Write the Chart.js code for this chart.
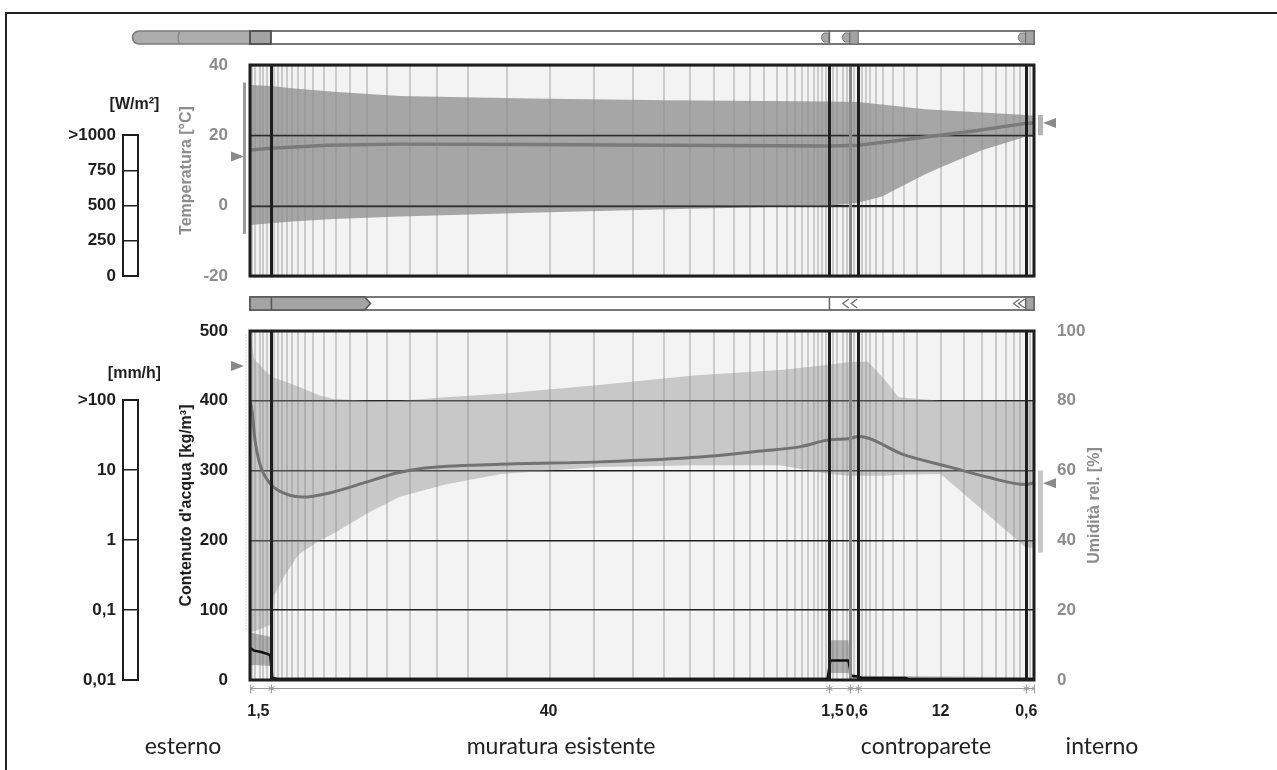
<!DOCTYPE html>
<html><head><meta charset="utf-8">
<script src="https://cdn.jsdelivr.net/npm/chart.js@4.4.1/dist/chart.umd.min.js"></script>
<style>
html,body{margin:0;padding:0;background:#fff;width:1277px;height:770px;overflow:hidden;position:relative}
canvas{position:absolute;display:block}
#frame{position:absolute;left:5px;top:12px;width:1290px;height:800px;border-left:2px solid #222;border-top:2px solid #222}
.lbl{position:absolute;top:731px;line-height:28px;font-family:Lato,'Open Sans',sans-serif;font-size:23px;color:#222;transform:translateX(-50%);white-space:nowrap}
</style></head>
<body>
<div id="frame"></div>
<canvas id="cW" width="160" height="290" style="left:0;top:0"></canvas>
<canvas id="cR" width="160" height="485" style="left:0;top:285px"></canvas>
<canvas id="cT" width="1277" height="290" style="left:0;top:0"></canvas>
<canvas id="cM" width="1277" height="485" style="left:0;top:285px"></canvas>
<div id="labels"></div>
<script>
// ================= DATA =================
const layerThick  = [1.5, 40, 1.5, 0.6, 12, 0.6];           // cm
const layerLabels = ['1,5', '40', '1,5', '0,6', '12', '0,6'];
const layerLabelPos = [0.6, 21.4, 41.75, 43.5, 49.5, 55.65]; // cm (label anchors)
const regionNames = ['esterno', 'muratura esistente', 'controparete', 'interno'];
const regionPos   = [183, 561, 926, 1102];                    // px centres of the captions
const gridCm = [0.17,0.36,0.72,0.95,1.2,
  1.74,2.03,2.32,2.63,2.99,3.42,3.94,4.54,5.30,6.14,7.17,8.37,9.80,11.47,13.38,15.65,18.40,
  21.51,24.66,27.43,29.70,31.54,33.28,34.72,35.84,36.87,37.76,38.47,39.07,39.59,40.02,40.43,40.74,41.03,41.27,
  41.81,42.10,42.49,42.77, 43.3,
  43.85,44.15,44.45,44.85,45.4,46.1,46.9,47.8,49.5,51.2,52.5,53.5,54.2,54.8,55.2, 55.91];

// temperature [°C]
const tempTicks = [-20, 0, 20, 40];
const tempBandX = [0, 1.5, 3, 6, 10.75, 20, 30, 41.5, 43.6, 45.3, 48.4, 49.6, 52.5, 55.6, 56.2];
const tempMax   = [34.3, 34, 33.4, 32.4, 31.2, 30.5, 30, 29.6, 29.5, 28.8, 27.4, 27.1, 26.5, 25.8, 25.6];
const tempMin   = [-5.5, -5, -4.5, -3.8, -3.1, -2, -1, 0, 0.8, 2.6, 8.9, 11.1, 15.8, 19.6, 20];
const tempMeanX = [0, 1.5, 5.5, 10.75, 20, 30, 41.5, 43.6, 46, 49, 52, 55.6, 56.2];
const tempMean  = [15.8, 16.3, 17.2, 17.5, 17.4, 17.2, 17, 17.2, 18.3, 19.8, 21.3, 23.4, 23.5];
const extTempRange = [-8, 35], extTempMean = 14, intTempRange = [20, 25.8], intTempMean = 23.5;

// relative humidity [%]
const rhTicks = [0, 20, 40, 60, 80, 100];
const rhBandX = [0, 0.3, 1, 1.5, 1.7, 2.5, 3.5, 5, 6, 8.5, 10.75, 14, 18, 25, 32, 38, 41.5, 43, 43.6, 44.3, 45.5, 46.5, 49.5, 52, 55.6, 56.2];
const rhMax   = [99, 92, 89, 87, 86.7, 85.5, 84, 81.5, 80.5, 80, 80, 81, 82, 84.5, 87.3, 88.8, 90.3, 91.1, 91.2, 91.2, 86, 81, 80, 80, 80, 80];
const rhMin   = [14, 14, 15, 16, 24, 30, 36, 40, 42, 48, 52.5, 56, 59, 61, 61.5, 61.5, 59, 58.5, 58.5, 58.5, 58.5, 58.8, 59, 50.5, 38, 38];
const rhMeanX = [0, 0.15, 0.35, 0.7, 1.4, 2.4, 3.8, 5.7, 8.1, 10.5, 12.4, 17.9, 25.1, 32.3, 36.6, 39.4, 41.5, 43, 43.6, 46.9, 50.2, 53, 55.6, 56.2];
const rhMean  = [80, 77, 69, 62, 56.5, 53.6, 52.4, 53.6, 56.4, 59.3, 60.7, 61.8, 62.5, 63.9, 65.6, 66.8, 68.8, 69.2, 69.8, 64.5, 61, 58, 56, 56.5];
const extRhRange = [14, 99], extRhMean = 90, intRhRange = [36.5, 60], intRhMean = 56.4;

// water content [kg/m³]
const wcTicks = [0, 100, 200, 300, 400, 500];
const wcX   = [0, 0.3, 0.8, 1.3, 1.45, 1.6, 2, 41.4, 41.6, 42.9, 43.1, 43.6, 43.8, 47, 47.2, 56.2];
const wc    = [46, 42, 40, 37, 35, 3, 1.5, 1.5, 28, 28, 6, 5, 3, 3, 1.5, 1.5];
const wcBandX = [0, 1.45, 1.6, 41.4, 41.6, 42.9, 43.1, 56.2];
const wcMax   = [68, 62, 4, 4, 57, 57, 6, 4];
const wcMin   = [22, 20, 0, 0, 10, 10, 0, 0];
const moistFront = 8.5; // cm, extent of the shaded bar over the moisture chart

// side scales
const radTicks = [0, 250, 500, 750, 1000];
const radLabels = ['0', '250', '500', '750', '>1000'];
const rainTicks = [0.01, 0.1, 1, 10, 100];
const rainLabels = ['0,01', '0,1', '1', '10', '>100'];

// ================= HELPERS =================
const FONT = "'Liberation Sans', Arial, sans-serif";
Chart.defaults.font.family = FONT;
const boundaries = layerThick.reduce((a, t) => { a.push(+(a[a.length - 1] + t).toFixed(3)); return a; }, [0]);
const X_END = boundaries[boundaries.length - 1];
const pts = (xs, ys) => xs.map((x, i) => ({x, y: ys[i]}));
const fixTicks = arr => s => { s.ticks = arr.map(v => ({value: v})); };
const GRIDGRAY = '#cbcbcb', TICKGRAY = '#8c8c8c', INK = '#1e1e1e';

const bgPlugin = { id: 'bg', beforeDraw(c) {
  const a = c.chartArea, ctx = c.ctx; ctx.save(); ctx.fillStyle = '#f3f3f3';
  ctx.fillRect(a.left, a.top, a.right - a.left, a.bottom - a.top); ctx.restore(); } };

// redraw horizontal value lines above the bands, below the mean curves
const hLinePlugin = { id: 'hline', beforeDatasetDraw(c, args) {
  if (args.index !== 1) return;
  const a = c.chartArea, ctx = c.ctx, y = c.scales.y;
  ctx.save(); ctx.strokeStyle = 'rgba(30,30,30,0.85)'; ctx.lineWidth = 1.5;
  y.ticks.forEach(t => { const py = Math.round(y.getPixelForValue(t.value)) + 0.5;
    ctx.beginPath(); ctx.moveTo(a.left, py); ctx.lineTo(a.right, py); ctx.stroke(); });
  ctx.restore(); } };

const framePlugin = { id: 'frame', afterDatasetsDraw(c) {
  const a = c.chartArea, ctx = c.ctx, xs = c.scales.x;
  ctx.save();
  boundaries.slice(1, -1).forEach((b, i) => {
    const px = Math.round(xs.getPixelForValue(b)) + 0.5;
    ctx.strokeStyle = (i === 2) ? '#8a8a8a' : INK; ctx.lineWidth = 3;
    ctx.beginPath(); ctx.moveTo(px, a.top); ctx.lineTo(px, a.bottom); ctx.stroke();
  });
  ctx.strokeStyle = INK; ctx.lineWidth = 3;
  ctx.strokeRect(a.left, a.top, a.right - a.left, a.bottom - a.top);
  ctx.restore(); } };

function tri(ctx, x, y, dir, color) {
  ctx.beginPath(); ctx.moveTo(x, y); ctx.lineTo(x - dir * 13, y - 5); ctx.lineTo(x - dir * 13, y + 5); ctx.closePath();
  ctx.fillStyle = color; ctx.fill();
}
function lArrow(ctx, xr, y0, h, fill) {
  ctx.beginPath(); ctx.moveTo(xr, y0 + 2); ctx.lineTo(xr - 5, y0 + 2);
  ctx.quadraticCurveTo(xr - 10, y0 + h / 2, xr - 5, y0 + h - 2); ctx.lineTo(xr, y0 + h - 2); ctx.closePath();
  ctx.fillStyle = fill; ctx.fill(); ctx.strokeStyle = '#777'; ctx.lineWidth = 1; ctx.stroke();
}
function lTri(ctx, xr, y0, h) {
  ctx.beginPath(); ctx.moveTo(xr, y0 + 2); ctx.lineTo(xr - 6, y0 + h / 2); ctx.lineTo(xr, y0 + h - 2);
  ctx.strokeStyle = '#777'; ctx.lineWidth = 1.5; ctx.stroke();
}

const topBarPlugin = { id: 'topbar', afterDraw(c) {
  const ctx = c.ctx, xs = c.scales.x, X = v => xs.getPixelForValue(v);
  const y0 = 31, h = 13, L = c.chartArea.left;
  ctx.save();
  ctx.beginPath(); ctx.moveTo(L, y0); ctx.lineTo(L - 111, y0); ctx.arc(L - 111, y0 + h / 2, h / 2, -Math.PI / 2, Math.PI / 2, true);
  ctx.lineTo(L, y0 + h); ctx.closePath(); ctx.fillStyle = '#adadad'; ctx.fill(); ctx.strokeStyle = '#7a7a7a'; ctx.lineWidth = 1.5; ctx.stroke();
  ctx.beginPath(); ctx.moveTo(L - 70, y0); ctx.quadraticCurveTo(L - 74, y0 + h / 2, L - 70, y0 + h); ctx.strokeStyle = '#888'; ctx.stroke();
  ctx.fillStyle = '#fff'; ctx.fillRect(X(0), y0, X(X_END) - X(0), h);
  ctx.strokeStyle = '#777'; ctx.lineWidth = 2; ctx.strokeRect(X(0), y0, X(X_END) - X(0), h);
  ctx.fillStyle = '#a3a3a3'; ctx.fillRect(X(0), y0, X(boundaries[1]) - X(0), h);
  ctx.strokeStyle = '#555'; ctx.strokeRect(X(0), y0, X(boundaries[1]) - X(0), h);
  lArrow(ctx, X(boundaries[2]), y0, h, '#a9a9a9');
  ctx.strokeStyle = '#666'; ctx.lineWidth = 1.5; ctx.beginPath(); ctx.moveTo(X(boundaries[2]) + 0.5, y0); ctx.lineTo(X(boundaries[2]) + 0.5, y0 + h); ctx.stroke();
  lArrow(ctx, X(boundaries[3]), y0, h, '#a9a9a9');
  ctx.fillStyle = '#a3a3a3'; ctx.fillRect(X(boundaries[3]), y0, X(boundaries[4]) - X(boundaries[3]), h);
  ctx.strokeStyle = '#666'; ctx.strokeRect(X(boundaries[3]), y0, X(boundaries[4]) - X(boundaries[3]), h);
  lArrow(ctx, X(boundaries[5]), y0, h, '#a9a9a9');
  ctx.fillStyle = '#a3a3a3'; ctx.fillRect(X(boundaries[5]), y0, X(X_END) - X(boundaries[5]), h);
  ctx.strokeStyle = '#666'; ctx.strokeRect(X(boundaries[5]), y0, X(X_END) - X(boundaries[5]), h);
  ctx.restore(); } };

const midBarPlugin = { id: 'midbar', afterDraw(c) {
  const ctx = c.ctx, xs = c.scales.x, X = v => xs.getPixelForValue(v);
  const y0 = c.chartArea.top - 34, h = 13;
  ctx.save();
  ctx.fillStyle = '#fff'; ctx.fillRect(X(0), y0, X(X_END) - X(0), h);
  ctx.strokeStyle = '#777'; ctx.lineWidth = 2; ctx.strokeRect(X(0), y0, X(X_END) - X(0), h);
  const xf = X(moistFront);
  ctx.beginPath(); ctx.moveTo(X(0), y0); ctx.lineTo(xf - 4, y0); ctx.lineTo(xf + 2, y0 + h / 2); ctx.lineTo(xf - 4, y0 + h); ctx.lineTo(X(0), y0 + h); ctx.closePath();
  ctx.fillStyle = '#a3a3a3'; ctx.fill(); ctx.strokeStyle = '#555'; ctx.lineWidth = 1.5; ctx.stroke();
  ctx.beginPath(); ctx.moveTo(X(boundaries[1]) + 0.5, y0); ctx.lineTo(X(boundaries[1]) + 0.5, y0 + h); ctx.stroke();
  ctx.strokeStyle = '#666'; ctx.beginPath(); ctx.moveTo(X(boundaries[2]) + 0.5, y0); ctx.lineTo(X(boundaries[2]) + 0.5, y0 + h); ctx.stroke();
  lTri(ctx, X(boundaries[3]) - 1, y0, h); lTri(ctx, X(boundaries[4]) - 1, y0, h);
  lTri(ctx, X(boundaries[5]) - 6, y0, h); lTri(ctx, X(boundaries[5]) - 1, y0, h);
  ctx.fillStyle = '#a3a3a3'; ctx.fillRect(X(boundaries[5]), y0, X(X_END) - X(boundaries[5]), h);
  ctx.strokeStyle = '#666'; ctx.strokeRect(X(boundaries[5]), y0, X(X_END) - X(boundaries[5]), h);
  ctx.restore(); } };

const tempSidePlugin = { id: 'tside', afterDraw(c) {
  const ctx = c.ctx, y = c.scales.y, a = c.chartArea;
  ctx.save();
  ctx.fillStyle = '#9a9a9a'; ctx.fillRect(a.left - 7, y.getPixelForValue(extTempRange[1]), 3, y.getPixelForValue(extTempRange[0]) - y.getPixelForValue(extTempRange[1]));
  tri(ctx, a.left - 6, y.getPixelForValue(extTempMean), 1, '#8a8a8a');
  ctx.fillStyle = '#b5b5b5'; ctx.fillRect(a.right + 4, y.getPixelForValue(intTempRange[1]), 5, y.getPixelForValue(intTempRange[0]) - y.getPixelForValue(intTempRange[1]));
  tri(ctx, a.right + 9, y.getPixelForValue(intTempMean), -1, '#8a8a8a');
  ctx.restore(); } };

const moistSidePlugin = { id: 'mside', afterDraw(c) {
  const ctx = c.ctx, y = c.scales.y2, a = c.chartArea, xs = c.scales.x;
  ctx.save();
  ctx.strokeStyle = '#d4d4d4'; ctx.lineWidth = 2; ctx.setLineDash([1, 2]);
  ctx.beginPath(); ctx.moveTo(a.left - 4, y.getPixelForValue(extRhRange[1])); ctx.lineTo(a.left - 4, y.getPixelForValue(extRhRange[0])); ctx.stroke();
  ctx.setLineDash([]);
  tri(ctx, a.left - 6, y.getPixelForValue(extRhMean), 1, '#8a8a8a');
  ctx.fillStyle = '#c8c8c8'; ctx.fillRect(a.right + 4, y.getPixelForValue(intRhRange[1]), 5, y.getPixelForValue(intRhRange[0]) - y.getPixelForValue(intRhRange[1]));
  tri(ctx, a.right + 9, y.getPixelForValue(intRhMean), -1, '#8a8a8a');
  // dimension line
  const dy = a.bottom + 8.5;
  ctx.strokeStyle = '#9a9a9a'; ctx.lineWidth = 1;
  ctx.beginPath(); ctx.moveTo(xs.getPixelForValue(0), dy); ctx.lineTo(xs.getPixelForValue(X_END), dy); ctx.stroke();
  boundaries.forEach((b, i) => {
    const px = Math.round(xs.getPixelForValue(b)) + 0.5;
    ctx.beginPath(); ctx.moveTo(px, dy - 4); ctx.lineTo(px, dy + 5); ctx.stroke();
    ctx.beginPath();
    if (i > 0) { ctx.moveTo(px - 3, dy - 2); ctx.lineTo(px, dy); ctx.lineTo(px - 3, dy + 2); }
    if (i < boundaries.length - 1) { ctx.moveTo(px + 3, dy - 2); ctx.lineTo(px, dy); ctx.lineTo(px + 3, dy + 2); }
    ctx.stroke();
  });
  // right axis title
  ctx.translate(a.right + 61, (a.top + a.bottom) / 2); ctx.rotate(-Math.PI / 2);
  ctx.font = "bold 16px " + FONT; ctx.fillStyle = TICKGRAY;
  ctx.textAlign = 'center'; ctx.textBaseline = 'middle'; ctx.fillText('Umidità rel. [%]', 0, 0);
  ctx.restore(); } };

const boxPlugin = { id: 'box', afterDraw(c, args, opts) {
  const a = c.chartArea, ctx = c.ctx; ctx.save(); ctx.strokeStyle = INK; ctx.lineWidth = 2;
  ctx.strokeRect(a.left, a.top, a.right - a.left, a.bottom - a.top);
  ctx.font = "bold 16px " + FONT; ctx.fillStyle = INK; ctx.textAlign = 'center'; ctx.textBaseline = 'middle';
  ctx.fillText(opts.text, (a.left + a.right) / 2 + 4, a.top + opts.dy);
  ctx.restore(); } };

const common = { responsive: false, animation: false, events: [] };
const noPad = s => { s.paddingTop = 0; s.paddingBottom = 0; s.paddingLeft = 0; s.paddingRight = 0; };
const tickFont = { size: 17, weight: 'bold' };
const xTickFont = { size: 16, weight: 'bold' };
const titleFont = { size: 16, weight: 'bold' };
const basePlugins = { legend: { display: false }, tooltip: { enabled: false } };

// ================= TEMPERATURE CHART =================
new Chart(document.getElementById('cT'), {
  type: 'line',
  data: { datasets: [
    { data: pts(tempMeanX, tempMean), borderColor: '#7a7a7a', borderWidth: 3.5, pointRadius: 0, fill: false },
    { data: pts(tempBandX, tempMax), borderWidth: 0, pointRadius: 0, fill: '+1', backgroundColor: 'rgba(140,140,140,0.75)' },
    { data: pts(tempBandX, tempMin), borderWidth: 0, pointRadius: 0, fill: false }
  ] },
  options: { ...common, plugins: basePlugins,
    layout: { padding: { left: 150, right: 243, top: 65, bottom: 14 } },
    scales: {
      x: { type: 'linear', min: 0, max: X_END, afterBuildTicks: fixTicks(gridCm),
           ticks: { display: false }, grid: { color: GRIDGRAY, lineWidth: 2, drawTicks: false }, border: { display: false },
           afterFit: s => { s.height = 0; noPad(s); } },
      y: { min: -20, max: 40, afterBuildTicks: fixTicks(tempTicks),
           ticks: { color: TICKGRAY, font: tickFont, padding: 22 }, grid: { color: INK, lineWidth: 1.5, drawTicks: false }, border: { display: false },
           title: { display: true, text: 'Temperatura [°C]', color: TICKGRAY, font: titleFont, padding: { top: 27, bottom: 0 } },
           afterFit: s => { s.width = 100; noPad(s); } }
    } },
  plugins: [bgPlugin, hLinePlugin, framePlugin, topBarPlugin, tempSidePlugin]
});

// ================= MOISTURE CHART =================
new Chart(document.getElementById('cM'), {
  type: 'line',
  data: { datasets: [
    { data: pts(wcX, wc), yAxisID: 'y', borderColor: '#111', borderWidth: 2.5, pointRadius: 0, fill: false },
    { data: pts(rhMeanX, rhMean), yAxisID: 'y2', borderColor: '#727272', borderWidth: 3, pointRadius: 0, fill: false, cubicInterpolationMode: 'monotone' },
    { data: pts(wcBandX, wcMax), yAxisID: 'y', borderWidth: 0, pointRadius: 0, fill: '+1', backgroundColor: 'rgba(110,110,110,0.5)' },
    { data: pts(wcBandX, wcMin), yAxisID: 'y', borderWidth: 0, pointRadius: 0, fill: false },
    { data: pts(rhBandX, rhMax), yAxisID: 'y2', borderWidth: 0, pointRadius: 0, fill: '+1', backgroundColor: 'rgba(140,140,140,0.42)' },
    { data: pts(rhBandX, rhMin), yAxisID: 'y2', borderWidth: 0, pointRadius: 0, fill: false }
  ] },
  options: { ...common, plugins: basePlugins,
    layout: { padding: { left: 150, right: 143, top: 46, bottom: 30 } },
    scales: {
      x: { type: 'linear', min: 0, max: X_END, afterBuildTicks: fixTicks(gridCm),
           ticks: { display: false }, grid: { color: GRIDGRAY, lineWidth: 2, drawTicks: false }, border: { display: false },
           afterFit: s => { s.height = 0; noPad(s); } },
      xl: { type: 'linear', position: 'bottom', min: 0, max: X_END, afterBuildTicks: fixTicks(layerLabelPos),
            ticks: { color: INK, font: xTickFont, padding: 22, autoSkip: false, maxRotation: 0, callback: (v, i) => layerLabels[i] },
            grid: { display: false, drawTicks: false }, border: { display: false },
            afterFit: s => { s.height = 60; noPad(s); } },
      y: { position: 'left', min: 0, max: 500, afterBuildTicks: fixTicks(wcTicks),
           ticks: { color: INK, font: tickFont, padding: 22 }, grid: { color: INK, lineWidth: 1.5, drawTicks: false }, border: { display: false },
           title: { display: true, text: "Contenuto d'acqua [kg/m³]", color: INK, font: titleFont, padding: { top: 27, bottom: 0 } },
           afterFit: s => { s.width = 100; noPad(s); } },
      y2: { position: 'right', min: 0, max: 100, afterBuildTicks: fixTicks(rhTicks),
            ticks: { color: TICKGRAY, font: tickFont, padding: 23 }, grid: { display: false, drawTicks: false }, border: { display: false },
            afterFit: s => { s.width = 100; noPad(s); } }
    } },
  plugins: [bgPlugin, framePlugin, midBarPlugin, moistSidePlugin]
});

// ================= SIDE SCALES =================
function sideScale(id, yOpts, title, pad, dy) {
  new Chart(document.getElementById(id), {
    type: 'line', data: { datasets: [] },
    options: { ...common,
      plugins: { ...basePlugins, box: { text: title, dy: dy } },
      layout: { padding: pad },
      scales: {
        x: { type: 'linear', position: 'top', min: 0, max: 1, display: false },
        y: Object.assign({ position: 'left', grid: { color: INK, lineWidth: 1.5, drawTicks: false }, border: { display: false },
             afterFit: s => { s.width = 60; noPad(s); } }, yOpts)
      } },
    plugins: [boxPlugin]
  });
}
sideScale('cW', { type: 'linear', min: 0, max: 1000, afterBuildTicks: fixTicks(radTicks),
  ticks: { color: INK, font: tickFont, padding: 7, callback: (v, i) => radLabels[i] } },
  '[W/m²]', { left: 63, right: 22, top: 135, bottom: 14 }, -30);
sideScale('cR', { type: 'logarithmic', min: 0.01, max: 100, afterBuildTicks: fixTicks(rainTicks),
  ticks: { color: INK, font: tickFont, padding: 7, callback: (v, i) => rainLabels[i] } },
  '[mm/h]', { left: 63, right: 22, top: 115, bottom: 90 }, -26);

// ================= REGION CAPTIONS =================
const lab = document.getElementById('labels');
regionNames.forEach((t, i) => { const d = document.createElement('div'); d.className = 'lbl'; d.style.left = regionPos[i] + 'px'; d.textContent = t; lab.appendChild(d); });
</script>
</body></html>
